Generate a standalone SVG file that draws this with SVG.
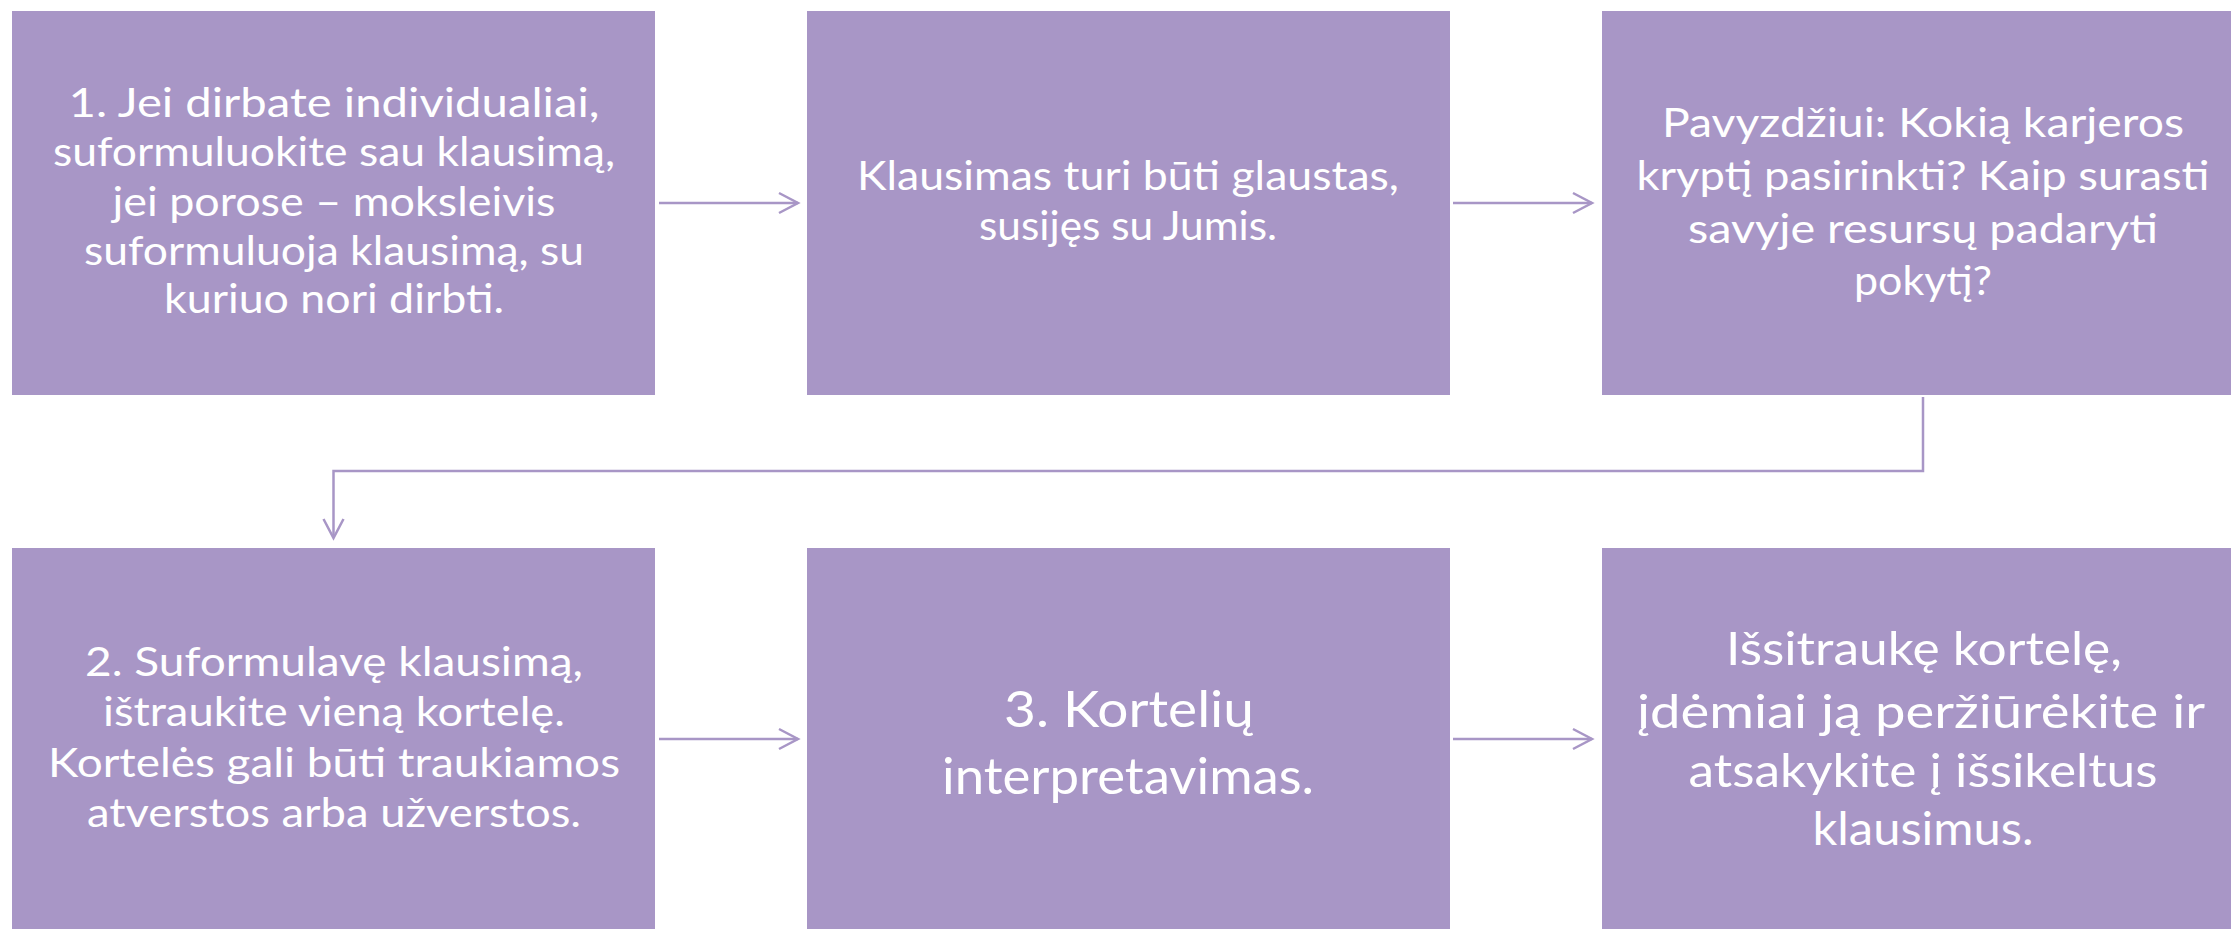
<svg xmlns="http://www.w3.org/2000/svg" width="2231" height="929" viewBox="0 0 2231 929">
<style>
.box{fill:#A896C6}
.t{fill:#FFFFFF;font-family:Lato,"Noto Sans","DejaVu Sans",sans-serif;text-anchor:middle}
.s40{font-size:40px}
.s46{font-size:46px}
.s50{font-size:50px}
.c{fill:none;stroke:#A896C6;stroke-width:2.5}
</style>
<defs>
<marker id="chev" markerUnits="userSpaceOnUse" viewBox="-22 -12 24 24" refX="0" refY="0" markerWidth="24" markerHeight="24" orient="auto" overflow="visible">
<path d="M-19,-10 L0,0 L-19,10" fill="none" stroke="#A896C6" stroke-width="2.5"/>
</marker>
</defs>
<rect width="2231" height="929" fill="#FFFFFF"/>
<g id="node1">
<rect class="box" x="12" y="11" width="643" height="384"/>
<text class="t s40"><tspan x="334" y="117" textLength="531" lengthAdjust="spacingAndGlyphs">1. Jei dirbate individualiai,</tspan><tspan x="334" y="166" textLength="562" lengthAdjust="spacingAndGlyphs">suformuluokite sau klausimą,</tspan><tspan x="334" y="216" textLength="443" lengthAdjust="spacingAndGlyphs">jei porose – moksleivis</tspan><tspan x="334" y="265" textLength="500" lengthAdjust="spacingAndGlyphs">suformuluoja klausimą, su</tspan><tspan x="334" y="313" textLength="340" lengthAdjust="spacingAndGlyphs">kuriuo nori dirbti.</tspan></text>
</g>
<g id="node2">
<rect class="box" x="807" y="11" width="643" height="384"/>
<text class="t s40"><tspan x="1128" y="190" textLength="542" lengthAdjust="spacingAndGlyphs">Klausimas turi būti glaustas,</tspan><tspan x="1128" y="240" textLength="298" lengthAdjust="spacingAndGlyphs">susijęs su Jumis.</tspan></text>
</g>
<g id="node3">
<rect class="box" x="1602" y="11" width="643" height="384"/>
<text class="t s40"><tspan x="1923" y="137" textLength="522" lengthAdjust="spacingAndGlyphs">Pavyzdžiui: Kokią karjeros</tspan><tspan x="1923" y="190" textLength="573" lengthAdjust="spacingAndGlyphs">kryptį pasirinkti? Kaip surasti</tspan><tspan x="1923" y="243" textLength="470" lengthAdjust="spacingAndGlyphs">savyje resursų padaryti</tspan><tspan x="1923" y="295" textLength="138" lengthAdjust="spacingAndGlyphs">pokytį?</tspan></text>
</g>
<g id="node4">
<rect class="box" x="12" y="548" width="643" height="384"/>
<text class="t s40"><tspan x="334" y="676" textLength="498" lengthAdjust="spacingAndGlyphs">2. Suformulavę klausimą,</tspan><tspan x="334" y="726" textLength="462" lengthAdjust="spacingAndGlyphs">ištraukite vieną kortelę.</tspan><tspan x="334" y="777" textLength="572" lengthAdjust="spacingAndGlyphs">Kortelės gali būti traukiamos</tspan><tspan x="334" y="827" textLength="494" lengthAdjust="spacingAndGlyphs">atverstos arba užverstos.</tspan></text>
</g>
<g id="node5">
<rect class="box" x="807" y="548" width="643" height="384"/>
<text class="t s50"><tspan x="1129" y="727" textLength="250" lengthAdjust="spacingAndGlyphs">3. Kortelių</tspan><tspan x="1128" y="794" textLength="372" lengthAdjust="spacingAndGlyphs">interpretavimas.</tspan></text>
</g>
<g id="node6">
<rect class="box" x="1602" y="548" width="643" height="384"/>
<text class="t s46"><tspan x="1924" y="665" textLength="396" lengthAdjust="spacingAndGlyphs">Išsitraukę kortelę,</tspan><tspan x="1921" y="728" textLength="568" lengthAdjust="spacingAndGlyphs">įdėmiai ją peržiūrėkite ir</tspan><tspan x="1923" y="787" textLength="469" lengthAdjust="spacingAndGlyphs">atsakykite į išsikeltus</tspan><tspan x="1923" y="845" textLength="221" lengthAdjust="spacingAndGlyphs">klausimus.</tspan></text>
</g>
<g id="connectors">
<path class="c" d="M659,203 H798" marker-end="url(#chev)"/>
<path class="c" d="M1453,203 H1592" marker-end="url(#chev)"/>
<path class="c" d="M1923,397 V471 H333.5 V538" marker-end="url(#chev)"/>
<path class="c" d="M659,739 H798" marker-end="url(#chev)"/>
<path class="c" d="M1453,739 H1592" marker-end="url(#chev)"/>
</g>
</svg>
